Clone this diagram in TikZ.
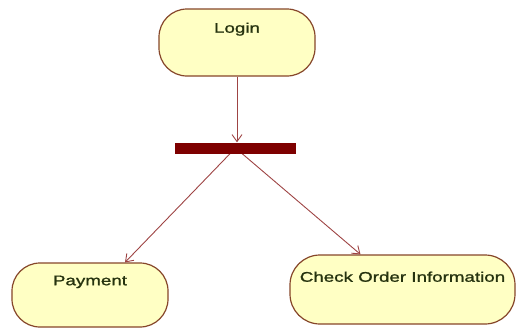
\documentclass[tikz,border=0pt]{standalone}
\usepackage{fontspec}
\newfontfamily\actfont[FakeStretch=1.34,FakeBold=1.2]{Liberation Sans}
\usetikzlibrary{arrows.meta,backgrounds}
\definecolor{actfill}{HTML}{FFFFC4}
\definecolor{actborder}{HTML}{86462A}
\definecolor{acttext}{HTML}{26330F}
\definecolor{flowline}{HTML}{9E4444}
\definecolor{barred}{HTML}{7E0000}
\newcommand{\flowtip}{Straight Barb[length=7bp,width=10bp]}
\tikzstyle{action}=[draw=actborder,fill=actfill,line width=1.2bp,rounded corners=28bp,inner sep=0pt]
\tikzstyle{actlabel}=[anchor=north,inner sep=0pt,font=\actfont\fontsize{14bp}{16bp}\selectfont,text=acttext]
\tikzstyle{forkbar}=[fill=barred,inner sep=0pt,minimum width=121bp,minimum height=11bp]
\tikzstyle{flow}=[-\flowtip,flowline,line width=0.9bp]

\begin{document}
\begin{tikzpicture}[x=1bp,y=-1bp]

  % Canvas (same size as the reference)
  \useasboundingbox (0,0) rectangle (520,331);

  % Activities
  \node[action,minimum width=156bp,minimum height=67bp,
        label={[actlabel,yshift=-14bp]north:Login}] (login) at (237,42.5) {};
  \node[forkbar] (bar) at (235.5,148) {};
  \node[action,minimum width=156bp,minimum height=64bp,
        label={[actlabel,yshift=-13bp]north:Payment}] (pay) at (90,295) {};
  \node[action,minimum width=225bp,minimum height=69bp,rounded corners=30bp,
        label={[actlabel,yshift=-17bp]north:Check Order Information}] (check) at (402.5,289.5) {};

  % Arrows
  \draw[flow] (login.south) -- (login.south |- bar.north);
  \begin{scope}[on background layer]
    \draw[flow] (bar.center) -- ([xshift=35bp]pay.north);
    \draw[flow] (bar.center) -- ([xshift=-42bp]check.north);
  \end{scope}

\end{tikzpicture}
\end{document}
